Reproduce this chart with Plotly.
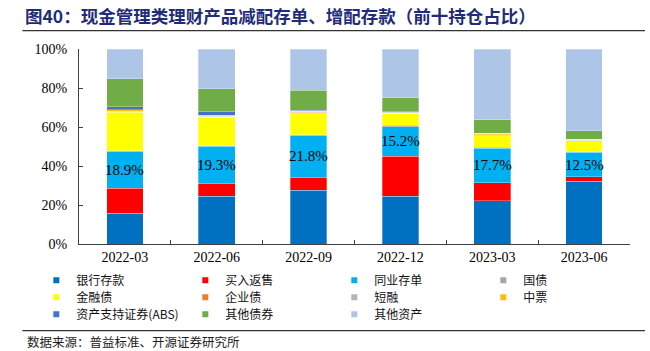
import plotly.graph_objects as go

categories = ["2022-03", "2022-06", "2022-09", "2022-12", "2023-03", "2023-06"]

series_names = ["银行存款", "买入返售", "同业存单", "国债", "金融债", "企业债",
                "短融", "中票", "资产支持证券(ABS)", "其他债券", "其他资产"]

bank_deposit = [15.7, 24.4, 27.5, 24.4, 22.2, 32.1]
reverse_repo = [13.0, 6.4, 6.5, 20.6, 9.3, 2.4]
ncd = [18.9, 19.3, 21.8, 15.2, 17.7, 12.5]
gov_bond = [0.3, 0.2, 0.2, 0.8, 0.3, 0.3]
fin_bond = [19.7, 14.7, 11.2, 6.0, 6.0, 5.6]
corp_bond = [0.3, 0.3, 0.3, 0.1, 0.2, 0.1]
short_fin = [0.3, 0.2, 0.3, 0.5, 0.2, 0.3]
mtn = [0.6, 0.6, 0.3, 0.2, 0.8, 0.3]
abs_sec = [1.7, 1.8, 0.5, 0.1, 0.1, 0.1]
other_bond = [14.2, 11.7, 10.2, 7.1, 7.0, 4.4]
other_asset = [15.3, 20.4, 21.2, 25.0, 36.2, 41.9]

ncd_labels = ["18.9%", "19.3%", "21.8%", "15.2%", "17.7%", "12.5%"]

y_ticks = [0, 20, 40, 60, 80, 100]
y_tick_labels = ["0%", "20%", "40%", "60%", "80%", "100%"]

series_values = [bank_deposit, reverse_repo, ncd, gov_bond, fin_bond, corp_bond,
                 short_fin, mtn, abs_sec, other_bond, other_asset]
colors = ["#0070C0", "#FF0000", "#00B0F0", "#A5A5A5", "#FFFF00", "#ED7D31",
          "#B4B4B4", "#FFC000", "#4472C4", "#70AD47", "#ADC5E7"]

SERIF = "Liberation Serif, Times New Roman, serif"
CJK = "Noto Sans CJK SC"

fig = go.Figure()
for name, vals, col in zip(series_names, series_values, colors):
    fig.add_trace(go.Bar(
        x=categories, y=vals, name=name, marker_color=col,
        marker_line=dict(color="rgba(255,255,255,0.6)", width=0.5),
        showlegend=False, hoverinfo="skip",
    ))

# legend proxies (small square markers), split over three legend rows
legend_ids = ["legend"] * 4 + ["legend2"] * 4 + ["legend3"] * 3
for name, col, lg in zip(series_names, colors, legend_ids):
    fig.add_trace(go.Scatter(
        x=[None], y=[None], mode="markers", name=name, legend=lg,
        marker=dict(symbol="square", size=6, color=col),
        showlegend=True,
    ))

# NCD percentage labels centred in the 同业存单 segment
for i, c in enumerate(categories):
    base = bank_deposit[i] + reverse_repo[i]
    fig.add_annotation(x=c, y=base + ncd[i] / 2, xref="x", yref="y",
                       text=ncd_labels[i], showarrow=False,
                       font=dict(family=SERIF, size=15, color="black"))

L, R, T, B = 78.7, 20, 49.3, 106.7
W, H = 650, 351
pw = W - L - R
ph = H - T - B

def px_x(x):
    return (x - L) / pw

def px_y(y):
    return (H - B - y) / ph

# title
fig.add_annotation(x=px_x(23), y=px_y(16), xref="paper", yref="paper",
                   xanchor="left", yanchor="middle", showarrow=False,
                   text="<b>图40：现金管理类理财产品减配存单、增配存款（前十持仓占比）</b>",
                   font=dict(family=CJK, size=17.5, color="#1F2C78"))
# source
fig.add_annotation(x=px_x(25), y=px_y(342), xref="paper", yref="paper",
                   xanchor="left", yanchor="middle", showarrow=False,
                   text="数据来源：普益标准、开源证券研究所",
                   font=dict(family=CJK, size=12.5, color="#222222"))
# rules
fig.add_shape(type="line", xref="paper", yref="paper",
              x0=px_x(22), x1=px_x(645), y0=px_y(31), y1=px_y(31),
              line=dict(color="#333333", width=1.3))
fig.add_shape(type="line", xref="paper", yref="paper",
              x0=px_x(22), x1=px_x(645), y0=px_y(331), y1=px_y(331),
              line=dict(color="#333333", width=1.3))

legend_common = dict(orientation="h", xanchor="left", yanchor="middle",
                     x=px_x(36), entrywidth=104, entrywidthmode="pixels",
                     traceorder="normal",
                     font=dict(family=CJK, size=12, color="#111111"),
                     bgcolor="rgba(0,0,0,0)", borderwidth=0, itemclick=False)

fig.update_layout(
    width=W, height=H,
    margin=dict(l=L, r=R, t=T, b=B, autoexpand=False),
    barmode="stack", bargap=0.6,
    plot_bgcolor="white", paper_bgcolor="white",
    legend=dict(**legend_common, y=px_y(280.5)),
    legend2=dict(**legend_common, y=px_y(297.5)),
    legend3=dict(**legend_common, y=px_y(314.5)),
    xaxis=dict(type="category", showline=True, linecolor="#404040", linewidth=1,
               ticks="inside", ticklen=4, tickcolor="#404040",
               tickson="boundaries", showgrid=False, automargin=False,
               tickfont=dict(family=SERIF, size=14, color="black")),
    yaxis=dict(range=[0, 100], tickmode="array", tickvals=y_ticks,
               ticktext=y_tick_labels,
               showline=True, linecolor="#404040", linewidth=1,
               ticks="inside", ticklen=4, tickcolor="#404040",
               showgrid=False, zeroline=False, automargin=False,
               ticklabelstandoff=8,
               tickfont=dict(family=SERIF, size=14, color="black")),
)

fig.write_html("out.html")
